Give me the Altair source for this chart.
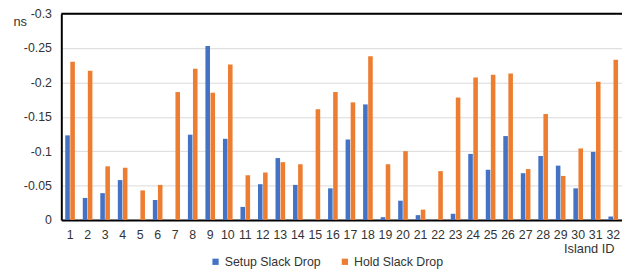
import altair as alt
import pandas as pd

islands = list(range(1, 33))
setup_drop = [-0.123, -0.032, -0.039, -0.058, 0, -0.029, 0, -0.124, -0.253, -0.118,
              -0.019, -0.052, -0.090, -0.051, 0, -0.046, -0.117, -0.168, -0.004, -0.028,
              -0.007, 0, -0.009, -0.096, -0.073, -0.122, -0.068, -0.093, -0.079, -0.046,
              -0.099, -0.005]
hold_drop = [-0.230, -0.217, -0.078, -0.076, -0.043, -0.051, -0.186, -0.220, -0.185, -0.226,
             -0.065, -0.069, -0.084, -0.081, -0.161, -0.186, -0.171, -0.238, -0.081, -0.100,
             -0.015, -0.071, -0.178, -0.207, -0.211, -0.213, -0.074, -0.154, -0.064, -0.104,
             -0.201, -0.233]
series_names = ["Setup Slack Drop", "Hold Slack Drop"]
series_colors = ["#4472C4", "#ED7D31"]
y_ticks = [-0.3, -0.25, -0.2, -0.15, -0.1, -0.05, 0]

rows = []
for i, isl in enumerate(islands):
    rows.append({"island": str(isl), "series": series_names[0], "value": setup_drop[i]})
    rows.append({"island": str(isl), "series": series_names[1], "value": hold_drop[i]})
df = pd.DataFrame(rows)

font = "Liberation Sans"
yscale = alt.Scale(domain=[-0.3, 0], reverse=True, nice=False)
yaxis = alt.Axis(title="ns", values=y_ticks, grid=True, gridColor="#d9d9d9", gridWidth=1,
                 labelOverlap=False,
                 labelExpr="datum.value == 0 ? '0' : '-' + format(-datum.value, '~g')",
                 labelFontSize=12.5, labelColor="#333333", labelFont=font, labelPadding=10,
                 ticks=False, domainColor="#000000", domainWidth=2,
                 titleAngle=0, titleFont=font, titleFontSize=13, titleFontWeight="normal",
                 titleColor="#333333", titleX=-49, titleY=8, titleAlign="left",
                 titleBaseline="middle")

bars = alt.Chart(df).mark_bar().encode(
    x=alt.X("island:N", sort=[str(i) for i in islands],
            scale=alt.Scale(paddingInner=0.45, paddingOuter=0.225),
            axis=alt.Axis(title="Island ID", labelAngle=0, labelFontSize=12.5, labelColor="#333333",
                          labelFont=font, labelPadding=9, ticks=False, domainColor="#000000",
                          domainWidth=2, titleFont=font, titleFontSize=13, titleFontWeight="normal",
                          titleColor="#333333", titleAnchor="end", titleAlign="right",
                          titleX=560, titleY=29, titleBaseline="middle")),
    xOffset=alt.XOffset("series:N", sort=series_names,
                        scale=alt.Scale(paddingInner=0.1)),
    y=alt.Y("value:Q", scale=yscale, axis=yaxis, title="ns"),
    color=alt.Color("series:N", sort=series_names,
                    scale=alt.Scale(domain=series_names, range=series_colors),
                    legend=alt.Legend(title=None, orient="none", legendX=150, legendY=245,
                                      direction="horizontal", symbolType="square", symbolSize=40,
                                      symbolStrokeWidth=0, labelFontSize=12.5, labelFont=font,
                                      labelColor="#333333", columnPadding=18, labelOffset=3)),
)

top_rule = alt.Chart(pd.DataFrame({"value": [-0.3]})).mark_rule(color="#000000", strokeWidth=2).encode(
    y=alt.Y("value:Q", scale=yscale, axis=yaxis, title="ns")
)

chart = alt.layer(bars, top_rule).properties(
    width=568, height=209,
    autosize=alt.AutoSizeParams(type="none"),
    padding={"left": 54, "top": 4, "right": 0, "bottom": 51},
).configure_view(stroke=None)

chart.save("out.html", embed_options={"renderer": "svg", "actions": False})
